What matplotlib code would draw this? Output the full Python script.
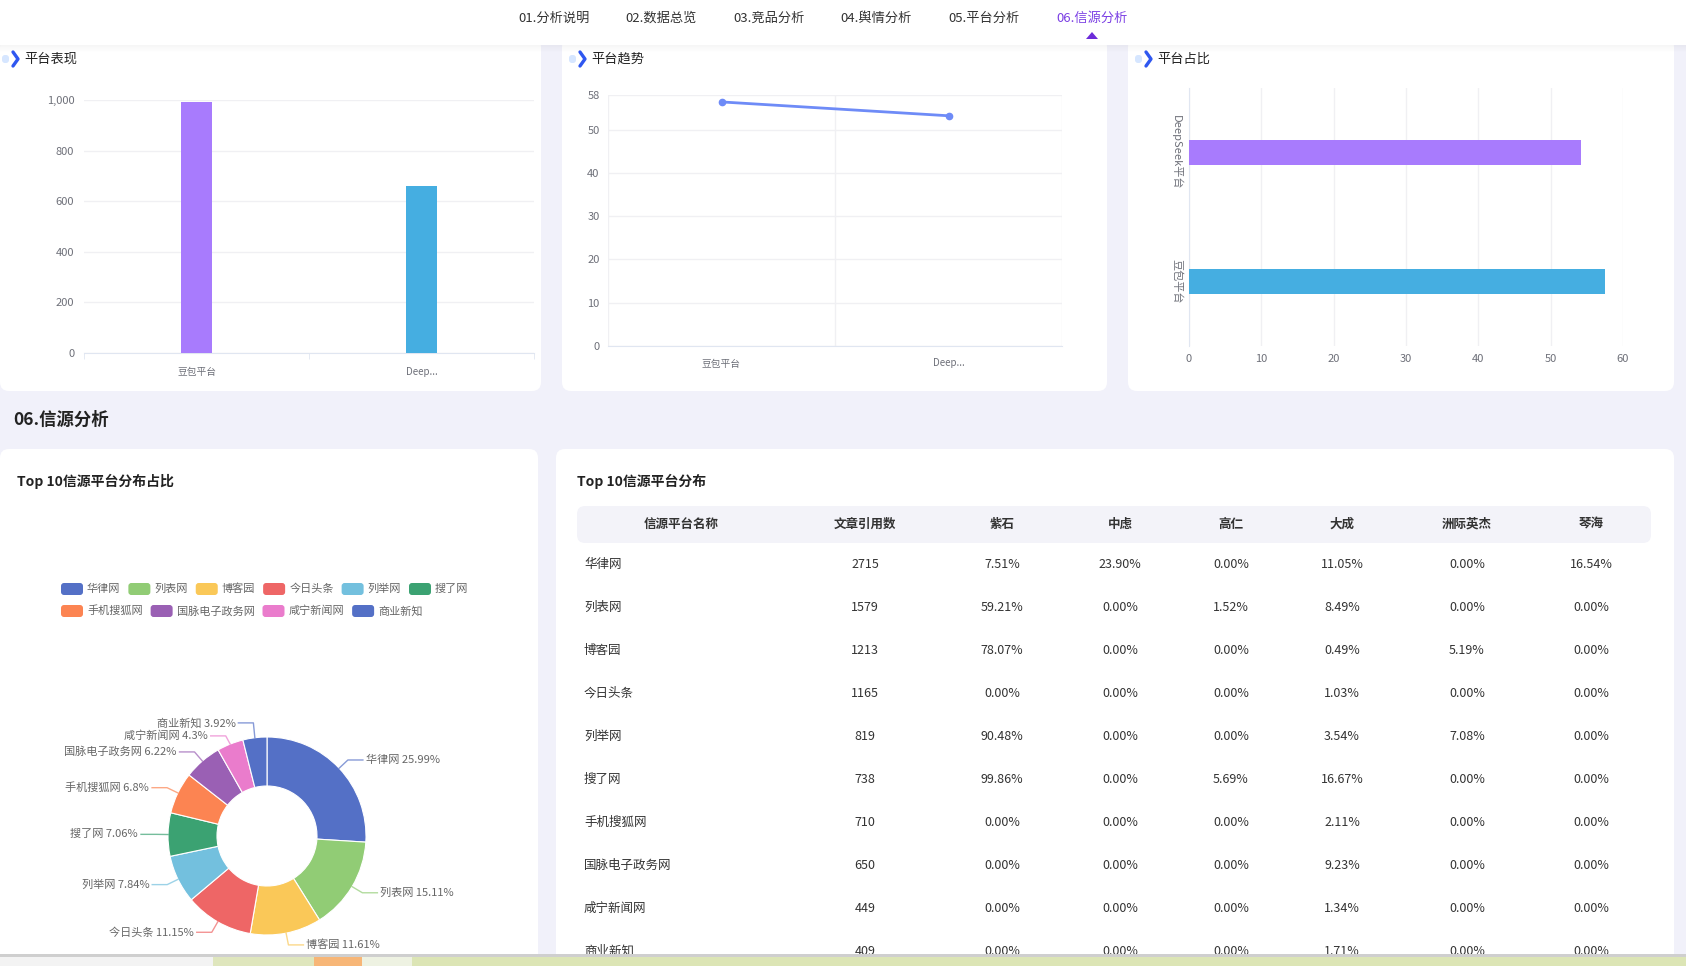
import numpy as np
import matplotlib
matplotlib.use("Agg")
import matplotlib.pyplot as plt
from matplotlib.patches import Rectangle, FancyBboxPatch, Polygon
from matplotlib.ticker import StrMethodFormatter

plt.rcParams['font.family'] = ['Noto Sans CJK SC', 'DejaVu Sans']

# ---- 数据 ----
nav_items = ['01.分析说明', '02.数据总览', '03.竞品分析', '04.舆情分析', '05.平台分析', '06.信源分析']
platforms = ['豆包平台', 'Deep...']
perf_vals = [992, 660]
trend_vals = [56.4, 53.2]
share_labels = ['豆包平台', 'DeepSeek平台']
share_vals = [57.5, 54.2]

src_names = ['华律网', '列表网', '博客园', '今日头条', '列举网', '搜了网',
             '手机搜狐网', '国脉电子政务网', '咸宁新闻网', '商业新知']
src_counts = [2715, 1579, 1213, 1165, 819, 738, 710, 650, 449, 409]
col_names = ['信源平台名称', '文章引用数', '紫石', '中虑', '高仁', '大成', '洲际英杰', '琴海']
zishi = [7.51, 59.21, 78.07, 0, 90.48, 99.86, 0, 0, 0, 0]
zhonglv = [23.90, 0, 0, 0, 0, 0, 0, 0, 0, 0]
gaoren = [0, 1.52, 0, 0, 0, 5.69, 0, 0, 0, 0]
dacheng = [11.05, 8.49, 0.49, 1.03, 3.54, 16.67, 2.11, 9.23, 1.34, 1.71]
zhouji = [0, 0, 5.19, 0, 7.08, 0, 0, 0, 0, 0]
qinhai = [16.54, 0, 0, 0, 0, 0, 0, 0, 0, 0]

# ---- 样式 ----
BG = '#f1f1fa'
PURPLE = '#a87bfd'
BLUE = '#45aee1'
LINE = '#6e8bf7'
AXC = '#6e7079'
GRID = '#f0f0f3'
palette = ['#5470c6', '#91cc75', '#fac858', '#ee6666', '#73c0de',
           '#3ba272', '#fc8452', '#9a60b4', '#ea7ccc']
pie_colors = [palette[i % len(palette)] for i in range(len(src_names))]

W, H = 1686, 966
fig = plt.figure(figsize=(W / 100, H / 100), dpi=100)


def box(l, t, r, b):
    return [l / W, 1 - b / H, (r - l) / W, (b - t) / H]


def percents(vals, digits=2):
    # 最大余数法，和为100
    scale = 10 ** digits
    seats = [v / sum(vals) * 100 * scale for v in vals]
    out = [int(np.floor(s)) for s in seats]
    rem = [s - o for s, o in zip(seats, out)]
    while sum(out) < 100 * scale:
        k = int(np.argmax(rem))
        out[k] += 1
        rem[k] = -1
    return [o / scale for o in out]


bg = fig.add_axes([0, 0, 1, 1])
bg.set_xlim(0, W)
bg.set_ylim(H, 0)
bg.axis('off')
bg.add_patch(Rectangle((0, 0), W, H, fc=BG, ec='none'))

for l, t, r, b in [(0, 38, 541, 391), (562, 38, 1107, 391), (1128, 38, 1674, 391),
                   (0, 449, 538, 985), (556, 449, 1674, 985)]:
    bg.add_patch(FancyBboxPatch((l, t), r - l, b - t,
                                boxstyle='round,pad=0,rounding_size=9',
                                fc='white', ec='none'))

# 顶部导航
bg.add_patch(Rectangle((0, 0), W, 45, fc='white', ec='none', zorder=3))
for k in range(7):
    bg.add_patch(Rectangle((0, 45 + k), W, 1, fc='#000000', ec='none',
                           alpha=0.035 * (7 - k) / 7, zorder=3))
nav_x = [554, 661, 769, 876, 984, 1092]
for i, (name, x) in enumerate(zip(nav_items, nav_x)):
    active = i == len(nav_items) - 1
    bg.text(x, 18, name, ha='center', va='center', fontsize=9.5,
            color='#7b3fe4' if active else '#333333', zorder=4)
bg.add_patch(Polygon([[1086, 39], [1098, 39], [1092, 32]], closed=True,
                     fc='#6c2bd9', ec='none', zorder=4))


def chevron(x, y, title):
    bg.add_patch(FancyBboxPatch((x - 11, y - 4), 7, 8,
                                boxstyle='round,pad=0,rounding_size=3',
                                fc='#d6e6ff', ec='none', zorder=4))
    bg.plot([x, x + 5, x], [y - 7, y, y + 7], color='#2f57f0', lw=2.4,
            solid_capstyle='round', zorder=5)
    bg.text(x + 11, y, title, ha='left', va='center', fontsize=9.5,
            color='#222222', zorder=5)


chevron(13, 59, '平台表现')
chevron(580, 59, '平台趋势')
chevron(1146, 59, '平台占比')


def style(ax):
    for s in ax.spines.values():
        s.set_visible(False)
    ax.tick_params(colors=AXC, labelsize=8, length=0)
    ax.set_facecolor('none')


# ---- 平台表现 ----
ax1 = fig.add_axes(box(84, 100, 534, 353))
style(ax1)
x = np.arange(len(platforms))
ax1.bar(x, perf_vals, width=0.135, color=[PURPLE, BLUE], zorder=3)
ax1.set_xlim(-0.5, 1.5)
ax1.set_ylim(0, 1000)
ax1.set_yticks(range(0, 1001, 200))
ax1.yaxis.set_major_formatter(StrMethodFormatter('{x:,.0f}'))
ax1.set_xticks(x)
ax1.set_xticklabels(platforms, fontsize=7)
ax1.set_xticks([-0.5, 0.5, 1.5], minor=True)
ax1.tick_params(axis='x', which='minor', length=4, color='#e0e6f1')
ax1.tick_params(axis='x', pad=10)
ax1.tick_params(axis='y', pad=7)
ax1.grid(axis='y', color=GRID, lw=1, zorder=0)
ax1.spines['bottom'].set_visible(True)
ax1.spines['bottom'].set_color('#e0e6f1')

# ---- 平台趋势 ----
ax2 = fig.add_axes(box(608, 95, 1062, 346))
style(ax2)
ax2.plot(x, trend_vals, color=LINE, lw=2, marker='o', markersize=4.5, zorder=3)
ax2.set_xlim(-0.5, 1.5)
ax2.set_ylim(0, 58)
ax2.set_yticks([0, 10, 20, 30, 40, 50, 58])
ax2.set_xticks(x)
ax2.set_xticklabels(platforms, fontsize=7)
ax2.tick_params(axis='x', pad=9)
ax2.tick_params(axis='y', pad=6)
ax2.grid(axis='y', color=GRID, lw=1, zorder=0)
for b in [-0.5, 0.5, 1.5]:
    ax2.axvline(b, color=GRID, lw=1, zorder=0)
ax2.spines['bottom'].set_visible(True)
ax2.spines['bottom'].set_color('#e0e6f1')

# ---- 平台占比 ----
ax3 = fig.add_axes(box(1189, 88, 1623, 346))
style(ax3)
y = np.arange(len(share_labels))
ax3.barh(y, share_vals, height=0.2, color=[BLUE, PURPLE], zorder=3)
ax3.set_xlim(0, 60)
ax3.set_ylim(-0.5, 1.5)
ax3.set_xticks(range(0, 61, 10))
ax3.set_yticks(y)
ax3.set_yticklabels(share_labels, rotation=-90, va='center', fontsize=8)
ax3.tick_params(axis='x', labelsize=8, pad=6)
ax3.tick_params(axis='y', pad=5)
ax3.grid(axis='x', color=GRID, lw=1, zorder=0)
ax3.spines['left'].set_visible(True)
ax3.spines['left'].set_color('#e0e6f1')

# ---- 06.信源分析 ----
bg.text(13, 420, '06.信源分析', ha='left', va='center', fontsize=12.5,
        fontweight='bold', color='#222222')
bg.text(17, 481, 'Top 10信源平台分布占比', ha='left', va='center', fontsize=10,
        fontweight='bold', color='#222222')
bg.text(577, 481, 'Top 10信源平台分布', ha='left', va='center', fontsize=10,
        fontweight='bold', color='#222222')

# 图例
renderer = fig.canvas.get_renderer()
rows = [range(0, 6), range(6, 10)]
for row, ly in zip(rows, [589, 611]):
    lx = 61
    for i in row:
        bg.add_patch(FancyBboxPatch((lx, ly - 6), 22, 12,
                                    boxstyle='round,pad=0,rounding_size=3',
                                    fc=pie_colors[i], ec='none'))
        t = bg.text(lx + 26, ly, src_names[i], ha='left', va='center',
                    fontsize=8, color='#666666')
        lx += 26 + t.get_window_extent(renderer).width + 8

# 环形图
axp = fig.add_axes(box(0, 449, 538, 955))
cx, cy, R = 267, 955 - 836, 99
wedges, _ = axp.pie(src_counts, colors=pie_colors, startangle=90, counterclock=False,
                    center=(cx, cy), radius=R,
                    wedgeprops=dict(width=49, edgecolor='white', linewidth=0.8))
axp.set_xlim(0, 538)
axp.set_ylim(0, 506)
axp.set_aspect('equal')
axp.axis('off')

pcts = percents(src_counts)
labs = []
for i, w in enumerate(wedges):
    a = np.deg2rad((w.theta1 + w.theta2) / 2)
    pct = ('%.2f' % pcts[i]).rstrip('0').rstrip('.')
    labs.append(dict(i=i, side=1 if np.cos(a) >= 0 else -1,
                     ex=cx + R * np.cos(a), ey=cy + R * np.sin(a),
                     ax=cx + (R + 12) * np.cos(a), ay=cy + (R + 12) * np.sin(a),
                     text=f'{src_names[i]} {pct}%'))

for side in (1, -1):
    grp = sorted([d for d in labs if d['side'] == side], key=lambda d: d['ay'])
    for _ in range(60):
        for j in range(len(grp) - 1):
            gap = grp[j + 1]['ay'] - grp[j]['ay']
            if gap < 13:
                grp[j]['ay'] -= (13 - gap) / 2
                grp[j + 1]['ay'] += (13 - gap) / 2

for d in labs:
    c = pie_colors[d['i']]
    s = d['side']
    axp.plot([d['ex'], d['ax'], d['ax'] + s * 15], [d['ey'], d['ay'], d['ay']],
             color=c, lw=1, alpha=0.7)
    axp.text(d['ax'] + s * 18, d['ay'], d['text'], ha='left' if s > 0 else 'right',
             va='center', fontsize=8, color='#666666')

# 表格
axt = fig.add_axes(box(556, 449, 1674, 955))
axt.set_xlim(556, 1674)
axt.set_ylim((955 - 564.5) / 43, (449 - 564.5) / 43)
axt.axis('off')
head_y = (524.5 - 564.5) / 43
axt.add_patch(FancyBboxPatch((577, head_y - 0.43), 1074, 0.86,
                             boxstyle='round,pad=0,rounding_size=8',
                             mutation_aspect=1 / 43, fc='#f3f3f9', ec='none'))
col_x = [681, 865, 1002, 1120, 1231, 1342, 1467, 1591]
for name, cxp in zip(col_names, col_x):
    axt.text(cxp, head_y, name, ha='center', va='center', fontsize=9,
             fontweight='bold', color='#333333')

pct_cols = [zishi, zhonglv, gaoren, dacheng, zhouji, qinhai]
for r in range(len(src_names)):
    axt.text(584, r, src_names[r], ha='left', va='center', fontsize=9,
             color='#333333', clip_on=True)
    axt.text(col_x[1], r, str(src_counts[r]), ha='center', va='center',
             fontsize=9, color='#333333', clip_on=True)
    for k, col in enumerate(pct_cols):
        axt.text(col_x[k + 2], r, '%.2f%%' % col[r], ha='center', va='center',
                 fontsize=9, color='#333333', clip_on=True)

# 底部截图边缘
top = fig.add_axes([0, 0, 1, 1])
top.set_xlim(0, W)
top.set_ylim(H, 0)
top.axis('off')
top.add_patch(Rectangle((0, 954), W, 2.5, fc='#cfcfcf', ec='none'))
for x0, x1, col in [(0, 213, '#f3f3f3'), (213, 314, '#dfe6bd'), (314, 362, '#f7b677'),
                    (362, 412, '#eef2e2'), (412, W, '#dce5b5')]:
    top.add_patch(Rectangle((x0, 956.5), x1 - x0, 10, fc=col, ec='none'))

fig.savefig('out.png', dpi=100)
